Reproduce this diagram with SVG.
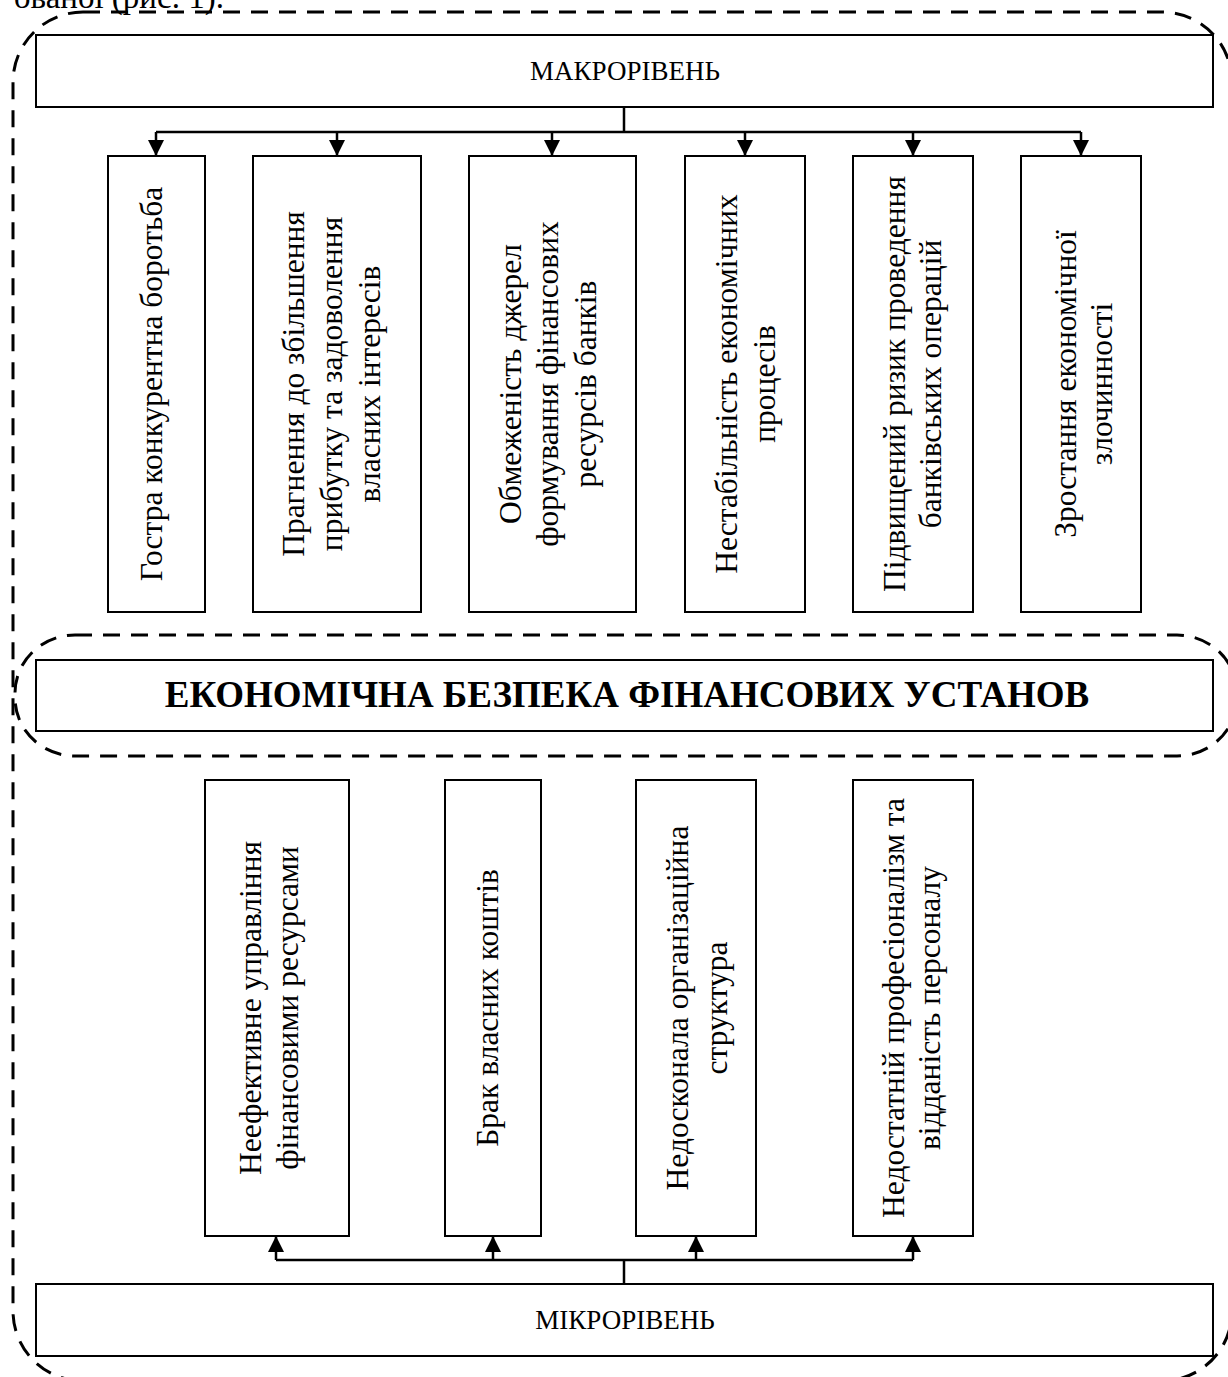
<svg xmlns="http://www.w3.org/2000/svg" width="1228" height="1377" viewBox="0 0 1228 1377">
<style>
.box{fill:#fff;stroke:#000;stroke-width:2}
.dash{fill:none;stroke:#000;stroke-width:3;stroke-dasharray:17 11}
.conn{fill:none;stroke:#000;stroke-width:2.5}
.t{font-family:"Liberation Serif","Times New Roman",serif;font-size:31.5px;fill:#000;text-anchor:middle}
.lvl{font-family:"Liberation Serif","Times New Roman",serif;font-size:27px;fill:#000;text-anchor:middle}
.title{font-family:"Liberation Serif","Times New Roman",serif;font-size:37px;font-weight:bold;fill:#000;text-anchor:middle}
</style>
<defs>
<marker id="arr" viewBox="0 0 16 16" refX="16" refY="8" markerWidth="16" markerHeight="16" markerUnits="userSpaceOnUse" orient="auto">
<path d="M0,0 L16,8 L0,16 z" fill="#000"/>
</marker>
</defs>
<rect width="1228" height="1377" fill="#fff"/>
<text x="14" y="8" font-family="Liberation Serif, serif" font-size="33">ованої (рис. 1).</text>
<g id="outer-frame"><rect class="dash" x="13" y="12" width="1219" height="1369" rx="70" ry="70"/></g>
<g id="center-frame"><rect class="dash" x="15" y="635" width="1222" height="121" rx="60" ry="58"/></g>

<g id="macro"><rect class="box" x="36" y="35" width="1177" height="72"/><text class="lvl" x="625" y="80">МАКРОРІВЕНЬ</text></g>

<g id="t1"><rect class="box" x="108" y="156" width="97" height="456"/>
<text class="t" transform="translate(162,384) rotate(-90)">Гостра конкурентна боротьба</text></g>
<g id="t2"><rect class="box" x="253" y="156" width="168" height="456"/>
<text class="t" transform="translate(304,384) rotate(-90)">Прагнення до збільшення</text>
<text class="t" transform="translate(342,384) rotate(-90)">прибутку та задоволення</text>
<text class="t" transform="translate(380,384) rotate(-90)">власних інтересів</text></g>
<g id="t3"><rect class="box" x="469" y="156" width="167" height="456"/>
<text class="t" transform="translate(521,384) rotate(-90)">Обмеженість джерел</text>
<text class="t" transform="translate(558,384) rotate(-90)">формування фінансових</text>
<text class="t" transform="translate(596,384) rotate(-90)">ресурсів банків</text></g>
<g id="t4"><rect class="box" x="685" y="156" width="120" height="456"/>
<text class="t" transform="translate(737,384) rotate(-90)">Нестабільність економічних</text>
<text class="t" transform="translate(775,384) rotate(-90)">процесів</text></g>
<g id="t5"><rect class="box" x="853" y="156" width="120" height="456"/>
<text class="t" transform="translate(905,384) rotate(-90)">Підвищений ризик проведення</text>
<text class="t" transform="translate(941,384) rotate(-90)">банківських операцій</text></g>
<g id="t6"><rect class="box" x="1021" y="156" width="120" height="456"/>
<text class="t" transform="translate(1076,384) rotate(-90)">Зростання економічної</text>
<text class="t" transform="translate(1112,384) rotate(-90)">злочинності</text></g>

<g id="title"><rect class="box" x="36" y="660" width="1177" height="71"/><text class="title" x="627" y="707">ЕКОНОМІЧНА БЕЗПЕКА ФІНАНСОВИХ УСТАНОВ</text></g>

<g id="b1"><rect class="box" x="205" y="780" width="144" height="456"/>
<text class="t" transform="translate(261,1008) rotate(-90)">Неефективне управління</text>
<text class="t" transform="translate(298,1008) rotate(-90)">фінансовими ресурсами</text></g>
<g id="b2"><rect class="box" x="445" y="780" width="96" height="456"/>
<text class="t" transform="translate(498,1008) rotate(-90)">Брак власних коштів</text></g>
<g id="b3"><rect class="box" x="636" y="780" width="120" height="456"/>
<text class="t" transform="translate(688,1008) rotate(-90)">Недосконала організаційна</text>
<text class="t" transform="translate(727,1008) rotate(-90)">структура</text></g>
<g id="b4"><rect class="box" x="853" y="780" width="120" height="456"/>
<text class="t" transform="translate(904,1008) rotate(-90)">Недостатній професіоналізм та</text>
<text class="t" transform="translate(940,1008) rotate(-90)">відданість персоналу</text></g>

<g id="micro"><rect class="box" x="36" y="1284" width="1177" height="72"/><text class="lvl" x="625" y="1329">МІКРОРІВЕНЬ</text></g>

<g id="connectors">
<path class="conn" d="M624,107 V132 M156,132 H1081"/>
<line class="conn" x1="156" y1="132" x2="156" y2="156" marker-end="url(#arr)"/>
<line class="conn" x1="337" y1="132" x2="337" y2="156" marker-end="url(#arr)"/>
<line class="conn" x1="552" y1="132" x2="552" y2="156" marker-end="url(#arr)"/>
<line class="conn" x1="745" y1="132" x2="745" y2="156" marker-end="url(#arr)"/>
<line class="conn" x1="913" y1="132" x2="913" y2="156" marker-end="url(#arr)"/>
<line class="conn" x1="1081" y1="132" x2="1081" y2="156" marker-end="url(#arr)"/>
<path class="conn" d="M624,1284 V1260 M276,1260 H913"/>
<line class="conn" x1="276" y1="1260" x2="276" y2="1236" marker-end="url(#arr)"/>
<line class="conn" x1="493" y1="1260" x2="493" y2="1236" marker-end="url(#arr)"/>
<line class="conn" x1="696" y1="1260" x2="696" y2="1236" marker-end="url(#arr)"/>
<line class="conn" x1="913" y1="1260" x2="913" y2="1236" marker-end="url(#arr)"/>
</g>
</svg>
